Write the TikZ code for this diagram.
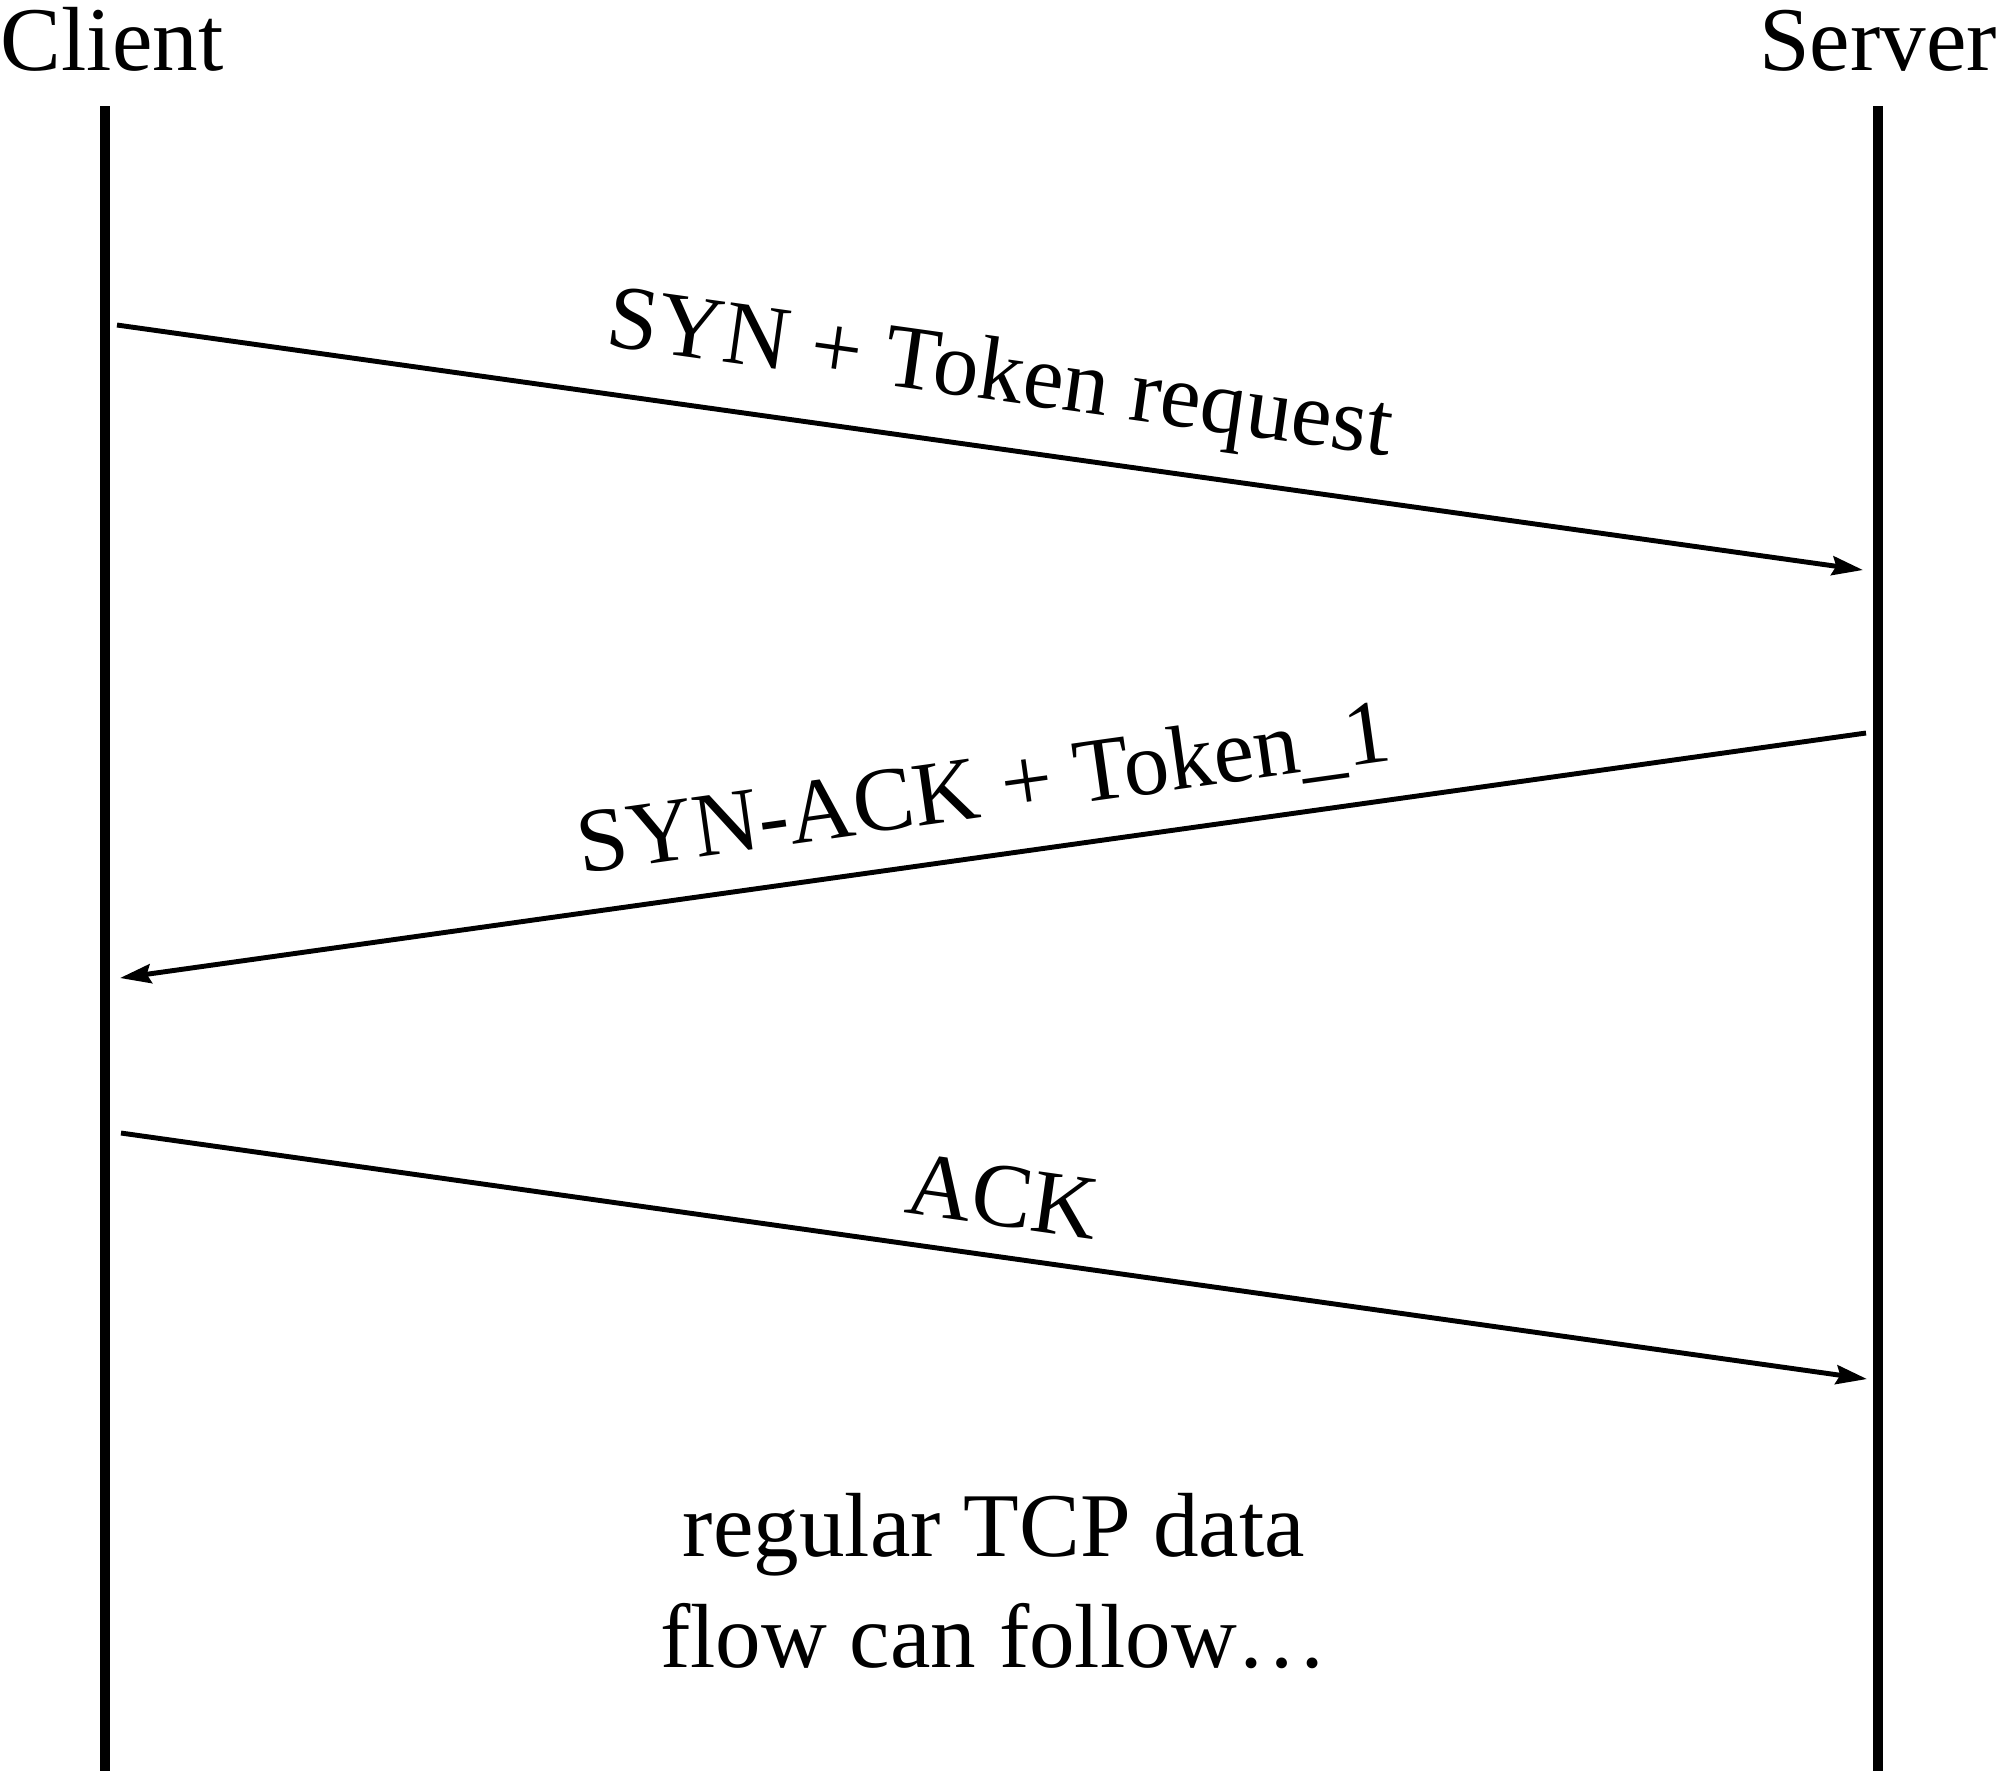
\documentclass[tikz,border=0pt]{standalone}
\usepackage{fontspec}
\setmainfont{Liberation Serif}
\usetikzlibrary{arrows.meta}

\begin{document}
\begin{tikzpicture}[x=0.01cm, y=-0.01cm,
    every node/.style = {font=\fontsize{25.9}{31.3}\selectfont},
    lifeline/.style = {line width=2.8pt},
    message/.style = {line width=1.4pt,
      -{Stealth[length=0.31cm, width=0.19cm, inset=0.04cm]}},
    msglabel/.style = {midway, sloped, inner sep=0pt, text depth=0.22em}]
  \useasboundingbox (0,0) rectangle (2000,1771);

  % the two hosts
  \node (client) [anchor=base] at (112,70) {Client};
  \node (server) [anchor=base] at (1878,70) {Server};
  \coordinate (client top) at (105,106);
  \coordinate (client bottom) at (105,1771);
  \coordinate (server top) at (1878,106);
  \coordinate (server bottom) at (1878,1771);
  \draw [lifeline] (client top) -- (client bottom);
  \draw [lifeline] (server top) -- (server bottom);

  % handshake
  \coordinate (syn start) at (117,325);
  \coordinate (syn end) at (1863,570);
  \coordinate (synack start) at (1866,733);
  \coordinate (synack end) at (120,978);
  \coordinate (ack start) at (121,1133);
  \coordinate (ack end) at (1867,1379);
  \draw [message] (syn start) -- node [msglabel, above=0.37cm] {SYN + Token request} (syn end);
  \draw [message] (synack start) -- node [msglabel, above=0.29cm] {SYN-ACK + Token\_1} (synack end);
  \draw [message] (ack start) -- node [msglabel, above=0.2cm] {ACK} (ack end);

  \node (data) [align=center, anchor=base] at (994,1667) {regular TCP data\\flow can follow…};
\end{tikzpicture}
\end{document}
